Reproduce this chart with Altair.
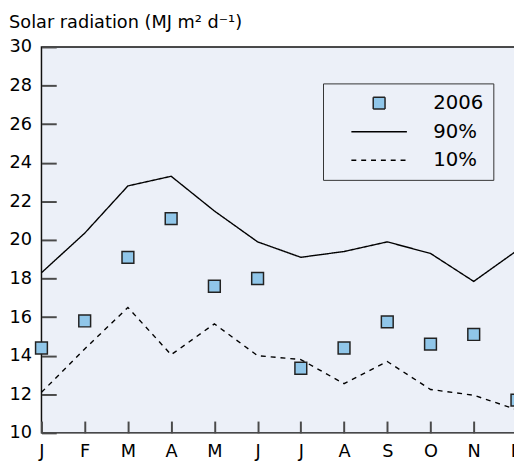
import altair as alt
import pandas as pd

# ---- data ----
months = ["J", "F", "M", "A", "M", "J", "J", "A", "S", "O", "N", "D"]
obs_2006 = [14.4, 15.8, 19.1, 21.1, 17.6, 18.0, 13.35, 14.4, 15.75, 14.6, 15.1, 11.7]
pct90 = [18.3, 20.35, 22.8, 23.3, 21.5, 19.9, 19.1, 19.4, 19.9, 19.3, 17.85, 19.45]
pct10 = [12.1, 14.35, 16.5, 14.05, 15.65, 14.0, 13.8, 12.55, 13.7, 12.25, 11.95, 11.2]
series_names = ["2006", "90%", "10%"]
y_ticks = list(range(10, 31, 2))
title_text = "Solar radiation (MJ m\u00b2 d\u207b\u00b9)"

FONT = "DejaVu Sans"
LINE_SYMBOL = "M-4.7,0H4.7"

pts = pd.DataFrame({"m": list(range(12)), "v": obs_2006, "series": "2006"})
lines = pd.concat([
    pd.DataFrame({"m": list(range(12)), "v": pct90, "series": "90%"}),
    pd.DataFrame({"m": list(range(12)), "v": pct10, "series": "10%"}),
])

label_expr = "[" + ",".join("'" + m + "'" for m in months) + "][datum.value]"

x_enc = alt.X("m:Q", scale=alt.Scale(domain=[0, 11], nice=False, zero=False),
              axis=alt.Axis(values=list(range(12)), labelExpr=label_expr, offset=-12,
                            tickSize=12, tickWidth=2, tickColor="#4a4a4a", domain=False,
                            grid=False, labelPadding=10, labelFontSize=18, labelFont=FONT,
                            labelColor="black", title=None, labelAngle=0, labelFlush=False,
                            labelOverlap=False))
y_enc = alt.Y("v:Q", scale=alt.Scale(domain=[10, 30], nice=False, zero=False),
              axis=alt.Axis(values=y_ticks, offset=-15, tickSize=15, tickWidth=2,
                            tickColor="#4a4a4a", domain=False, grid=False, labelPadding=10,
                            labelFontSize=18, labelFont=FONT, labelColor="black",
                            title=None, labelFlush=False, labelOverlap=False))

legend = alt.Legend(title=None, orient="none", legendX=286, legendY=37,
                    strokeColor="#333", padding=10, symbolOffset=37, labelOffset=45,
                    rowPadding=9, labelFontSize=20, labelFont=FONT, symbolSize=144,
                    labelColor="black", symbolStrokeWidth=1.5, symbolOpacity=1)

shape_scale = alt.Scale(domain=series_names, range=["square", LINE_SYMBOL, LINE_SYMBOL])
fill_scale = alt.Scale(domain=series_names, range=["#90C6E9", "transparent", "transparent"])
stroke_scale = alt.Scale(domain=series_names, range=["#222222", "#000000", "#000000"])
dash_scale = alt.Scale(domain=series_names, range=[[1, 0], [1, 0], [5, 5]])

line_layer = alt.Chart(lines).mark_line(strokeWidth=1.4).encode(
    x=x_enc, y=y_enc,
    stroke=alt.Stroke("series:N", scale=stroke_scale, legend=legend),
    strokeDash=alt.StrokeDash("series:N", scale=dash_scale, legend=legend),
)

point_layer = alt.Chart(pts).mark_point(filled=False, strokeWidth=1.5,
                                        size=144, opacity=1).encode(
    x=x_enc, y=y_enc,
    stroke=alt.Stroke("series:N", scale=stroke_scale, legend=legend),
    shape=alt.Shape("series:N", scale=shape_scale, legend=legend),
    fill=alt.Fill("series:N", scale=fill_scale, legend=legend),
)

chart = alt.layer(line_layer, point_layer).properties(
    width=483, height=392,
    title=alt.TitleParams(title_text, anchor="start", frame="bounds", fontSize=18,
                          font=FONT, fontWeight="normal", color="black", offset=6),
    autosize=alt.AutoSizeParams(type="none"),
    padding={"left": 34, "top": 36, "right": -3, "bottom": 27},
    background="white",
).configure_view(fill="#ECF0F8", stroke="#111", strokeWidth=1.5)

chart.save("out.html", embed_options={"renderer": "svg", "actions": False})
